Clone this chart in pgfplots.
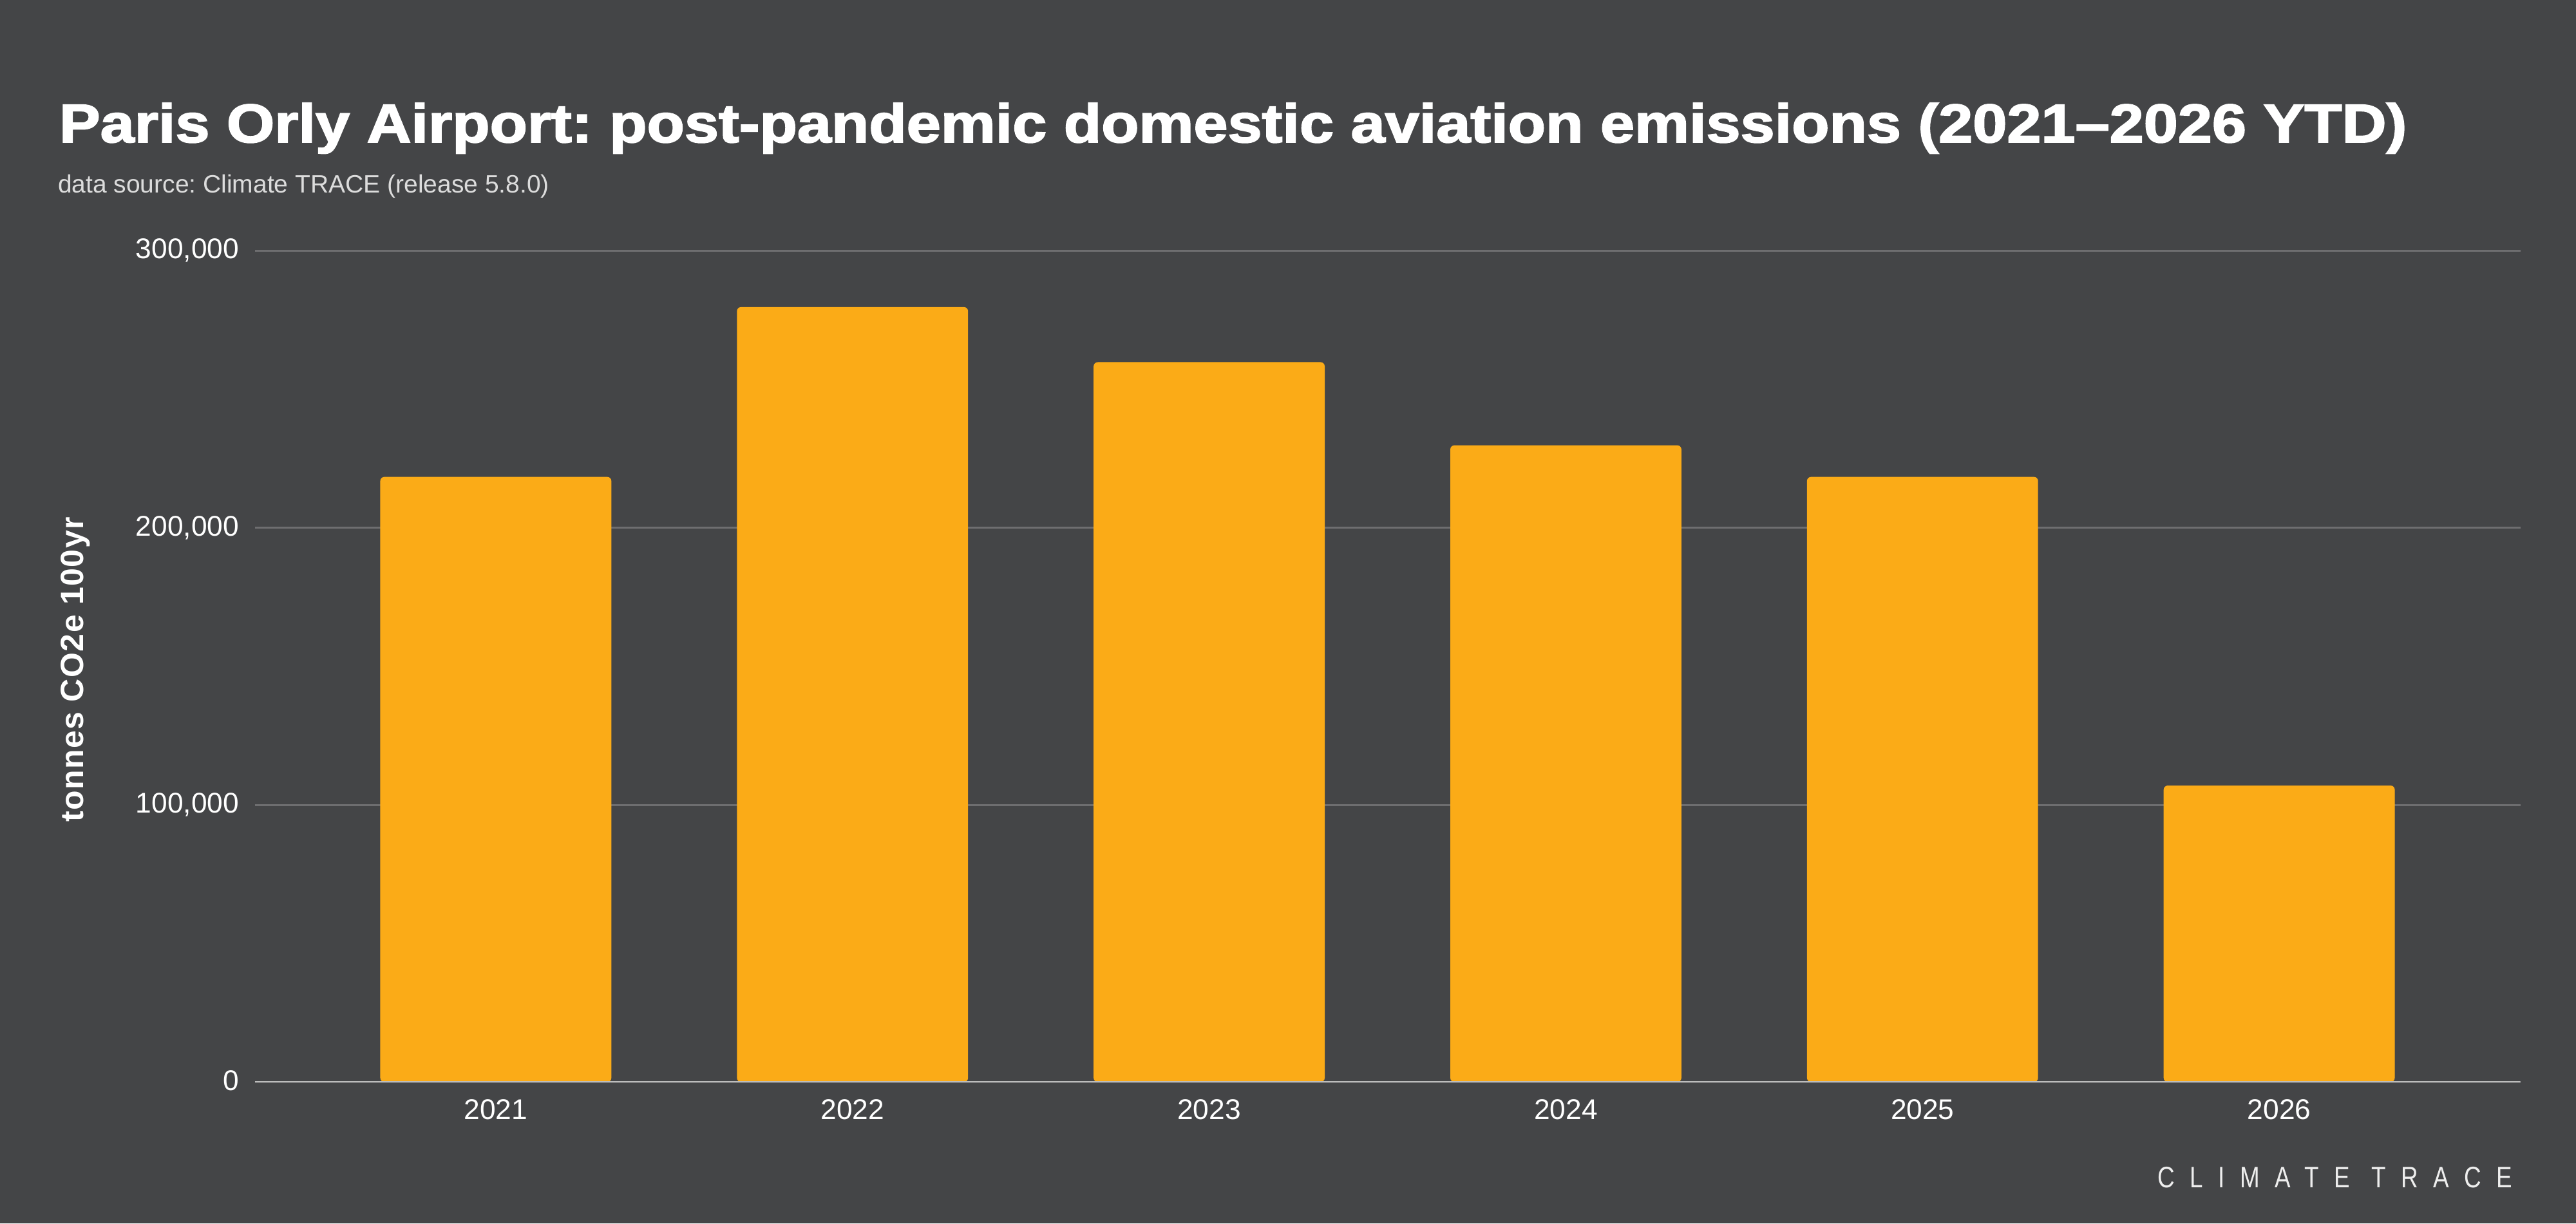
\documentclass[border=0pt]{standalone}
\usepackage{fontspec}
\setmainfont{Liberation Sans}
\usepackage{graphicx}
\usepackage{pgfplots}
\pgfplotsset{compat=1.18}
\definecolor{bg}{HTML}{444547}
\definecolor{barc}{HTML}{FBAB17}
\definecolor{gridc}{HTML}{6E6E70}
\definecolor{basec}{HTML}{BDBDBD}
\definecolor{subc}{HTML}{DCDCDC}
\definecolor{logoc}{HTML}{EEEEEE}
\begin{document}
\frenchspacing
\begin{tikzpicture}
\fill[bg] (0,0) rectangle (800pt,380pt);
% title and subtitle
\node[anchor=base west, inner sep=0pt, text=white] at (18.2pt,335.8pt)
  {\scalebox{1.13}[1]{\fontsize{16.9}{20}\selectfont\bfseries\addfontfeature{FakeBold=2.2}Paris Orly Airport: post-pandemic domestic aviation emissions (2021–2026 YTD)}};
\node[anchor=base west, inner sep=0pt, text=subc] at (17.8pt,320pt)
  {\fontsize{7.8}{9}\selectfont data source: Climate TRACE (release 5.8.0)};
% y label
\node[rotate=90, inner sep=0pt, text=white] at (23.5pt,172pt)
  {\fontsize{10}{12}\selectfont\bfseries\addfontfeature{LetterSpace=3}tonnes CO2e 100yr};
% logo
\node[anchor=base east, inner sep=0pt, text=logoc] at (780.5pt,11.2pt)
  {\scalebox{0.8}[1]{\fontsize{9.2}{10}\selectfont\addfontfeature{LetterSpace=64}CLIMATE TRACE}};
\begin{axis}[
  at={(79.1pt,43.9pt)}, anchor=south west,
  scale only axis, width=703.6pt, height=258.2pt,
  xmin=-0.676, xmax=5.676, ymin=0, ymax=300000,
  axis line style={draw=none},
  ybar, bar width=0.648,
  xtick={0,1,2,3,4,5},
  xticklabels={2021,2022,2023,2024,2025,2026},
  ytick={0,100000,200000,300000},
  scaled y ticks=false,
  major tick length=0pt,
  tick style={draw=none},
  ymajorgrids, grid style={gridc, line width=0.6pt},
  /pgf/number format/assume math mode=true,
  yticklabel={\pgfmathprintnumber[fixed,1000 sep={,}]{\tick}},
  yticklabel style={anchor=base east, inner sep=0pt, xshift=-4.7pt, yshift=-2.5pt, text=white, font=\fontsize{8.86}{10}\selectfont},
  xticklabel style={anchor=north, inner sep=0pt, yshift=-5.3pt, text=white, font=\fontsize{8.86}{10}\selectfont},
]
\addplot[draw=none, fill=barc, rounded corners=1.3pt] coordinates {
  (0,218400) (1,279700) (2,259800) (3,229800) (4,218400) (5,107000)
};
\draw[basec, line width=0.8pt] (rel axis cs:0,0) -- (rel axis cs:1,0);
\end{axis}
\end{tikzpicture}
\end{document}
